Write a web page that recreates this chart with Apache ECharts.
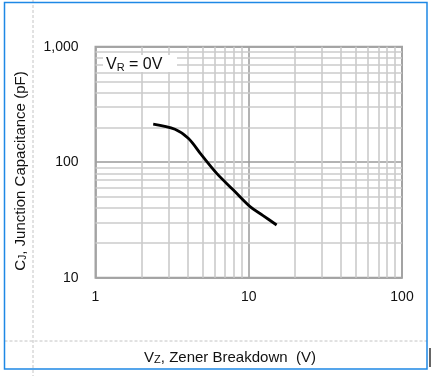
<!DOCTYPE html>
<html>
<head>
<meta charset="utf-8">
<script src="https://cdn.jsdelivr.net/npm/echarts@6/dist/echarts.min.js"></script>
<style>
  html, body { margin: 0; padding: 0; background: #fff; }
  #chart { width: 431px; height: 376px; }
</style>
</head>
<body>
<div id="chart"></div>
<script>
// curve
const vz = [2.38, 3.3, 4.03, 4.93, 6.18, 7.94, 10.2, 12.4, 15.2];
const cj = [214, 193, 161, 115, 80, 57.4, 41.2, 34.5, 28.6];

// minor grid lines (log decades)
const xMinor = [2, 3, 4, 5, 6, 7, 8, 9, 20, 30, 40, 50, 60, 70, 80, 90];
const yMinor = [20, 30, 40, 50, 60, 70, 80, 90, 200, 300, 400, 500, 600, 700, 800, 900];

const font = 'Liberation Sans, Arial, sans-serif';

const chart = echarts.init(document.getElementById('chart'));

const minorLines = []
  .concat(xMinor.map(v => ({ xAxis: v })))
  .concat(yMinor.map(v => ({ yAxis: v })));

chart.setOption({
  animation: false,
  grid: {
    left: 95.5, top: 46.7, right: 29, bottom: 98.3,
    show: true,
    borderColor: '#a3a3a3',
    borderWidth: 2,
    z: 4
  },
  xAxis: {
    type: 'log',
    min: 1, max: 100,
    logBase: 10,
    axisLine: { show: false },
    axisTick: { show: false },
    axisLabel: { color: '#111', fontSize: 14, fontFamily: font, margin: 12 },
    splitLine: { show: true, lineStyle: { color: '#9a9a9a', width: 1.5 } }
  },
  yAxis: {
    type: 'log',
    min: 10, max: 1000,
    logBase: 10,
    axisLine: { show: false },
    axisTick: { show: false },
    axisLabel: {
      color: '#111', fontSize: 14, fontFamily: font, margin: 17,
      formatter: v => v >= 1000 ? '1,000' : String(v)
    },
    splitLine: { show: true, lineStyle: { color: '#9a9a9a', width: 1.5 } }
  },
  series: [
    {
      type: 'line',
      data: [],
      z: 1,
      silent: true,
      markLine: {
        silent: true,
        symbol: 'none',
        label: { show: false },
        lineStyle: { color: '#cbcbcb', width: 1.6, type: 'solid' },
        data: minorLines
      }
    },
    {
      type: 'line',
      data: vz.map((v, i) => [v, cj[i]]),
      smooth: 0.35,
      showSymbol: false,
      z: 5,
      lineStyle: { color: '#000', width: 2.8 }
    }
  ],
  graphic: [
    // sheet-like frame
    {
      type: 'line', z: 0, silent: true,
      shape: { x1: 33, y1: 0, x2: 33, y2: 376 },
      style: { stroke: '#c4c4c4', lineWidth: 1, lineDash: [3, 2] }
    },
    {
      type: 'line', z: 0, silent: true,
      shape: { x1: 4.5, y1: 341, x2: 427, y2: 341 },
      style: { stroke: '#c4c4c4', lineWidth: 1, lineDash: [3, 2] }
    },
    {
      type: 'rect', z: 50, silent: true,
      shape: { x: 4.5, y: 2.5, width: 422.5, height: 366.5 },
      style: { fill: 'none', stroke: '#1e88e5', lineWidth: 1.5 }
    },
    {
      type: 'rect', z: 50, silent: true,
      shape: { x: 429, y: 348, width: 2, height: 19 },
      style: { fill: '#666' }
    },
    // condition box
    {
      type: 'rect', z: 100, silent: true,
      shape: { x: 103, y: 55, width: 74, height: 17 },
      style: { fill: '#fff' }
    },
    {
      type: 'text', z: 101, silent: true,
      x: 106, y: 64,
      style: {
        text: '{a|V}{s|R}{a| = 0V}',
        verticalAlign: 'middle',
        rich: {
          a: { fontSize: 16, fontFamily: font, fill: '#111', lineHeight: 18, verticalAlign: 'bottom' },
          s: { fontSize: 11, fontFamily: font, fill: '#111', lineHeight: 18, verticalAlign: 'bottom', padding: [6, 0, 0, 0] }
        }
      }
    },
    // axis titles
    {
      type: 'text', z: 10, silent: true,
      x: 19, y: 171, rotation: Math.PI / 2,
      style: {
        text: '{a|C}{s|J}{a|, Junction Capacitance (pF)}',
        align: 'center', verticalAlign: 'middle',
        rich: {
          a: { fontSize: 15, fontFamily: font, fill: '#111', lineHeight: 18, verticalAlign: 'bottom' },
          s: { fontSize: 10, fontFamily: font, fill: '#111', lineHeight: 18, verticalAlign: 'bottom', padding: [6, 0, 0, 0] }
        }
      }
    },
    {
      type: 'text', z: 10, silent: true,
      x: 230, y: 356,
      style: {
        text: '{a|V}{s|Z}{a|, Zener Breakdown  (V)}',
        align: 'center', verticalAlign: 'middle',
        rich: {
          a: { fontSize: 15, fontFamily: font, fill: '#111', lineHeight: 18, verticalAlign: 'bottom' },
          s: { fontSize: 11, fontFamily: font, fill: '#111', lineHeight: 18, verticalAlign: 'bottom', padding: [6, 0, 0, 0] }
        }
      }
    }
  ]
});

window.addEventListener('resize', () => {
  chart.resize();
});
</script>
</body>
</html>
